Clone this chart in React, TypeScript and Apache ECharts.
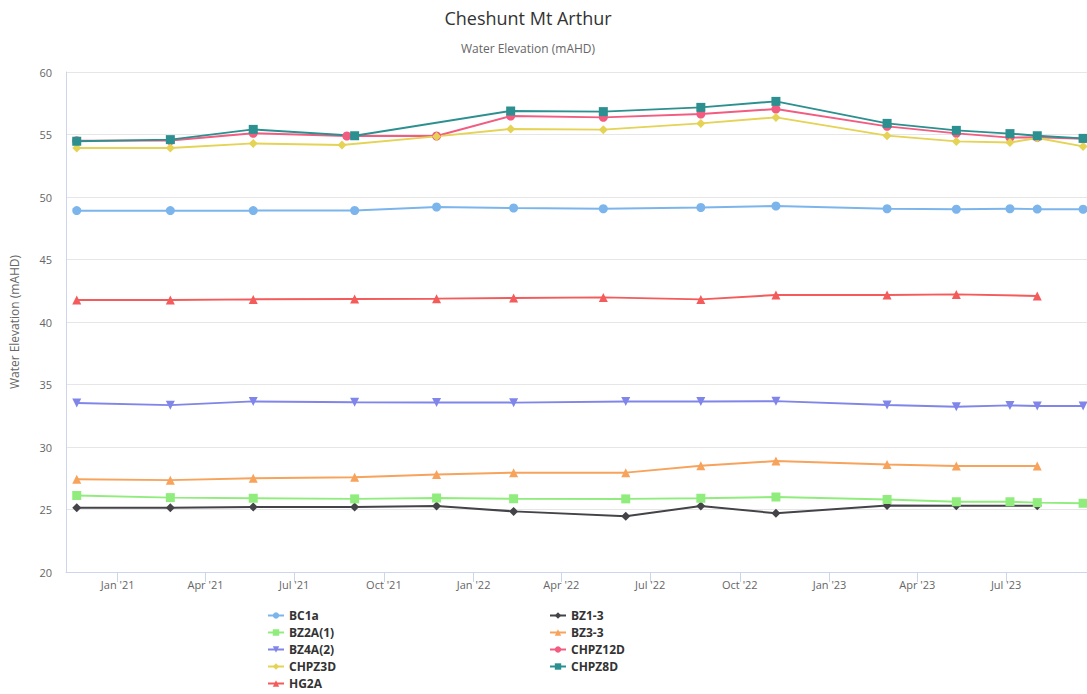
import React, { useEffect, useRef } from "react";
import * as echarts from "echarts";

const FONT = "'Open Sans', 'Noto Sans', sans-serif";

const tickDates = [
  "2021-01-01", "2021-04-01", "2021-07-01", "2021-10-01",
  "2022-01-01", "2022-04-01", "2022-07-01", "2022-10-01",
  "2023-01-01", "2023-04-01", "2023-07-01",
];
const monthNames = ["Jan", "Feb", "Mar", "Apr", "May", "Jun", "Jul", "Aug", "Sep", "Oct", "Nov", "Dec"];
const yTicks = { min: 20, max: 60, interval: 5 };
const xRange = { min: "2020-11-09", max: "2023-09-22" };

const bc1aDates = ["2020-11-20", "2021-02-24", "2021-05-20", "2021-09-01", "2021-11-24", "2022-02-11", "2022-05-14", "2022-08-22", "2022-11-07", "2023-03-01", "2023-05-11", "2023-07-05", "2023-08-02", "2023-09-18"];
const bc1aValues = [48.91, 48.91, 48.91, 48.92, 49.2, 49.12, 49.06, 49.16, 49.28, 49.06, 49.02, 49.06, 49.03, 49.02];

const bz13Dates = ["2020-11-20", "2021-02-24", "2021-05-20", "2021-09-01", "2021-11-24", "2022-02-11", "2022-06-06", "2022-08-22", "2022-11-07", "2023-03-01", "2023-05-11", "2023-08-02"];
const bz13Values = [25.14, 25.14, 25.2, 25.2, 25.28, 24.85, 24.46, 25.28, 24.7, 25.32, 25.3, 25.3];

const bz2aDates = ["2020-11-20", "2021-02-24", "2021-05-20", "2021-09-01", "2021-11-24", "2022-02-11", "2022-06-06", "2022-08-22", "2022-11-07", "2023-03-01", "2023-05-11", "2023-07-05", "2023-08-02", "2023-09-18"];
const bz2aValues = [26.12, 25.95, 25.9, 25.85, 25.92, 25.86, 25.85, 25.9, 26.0, 25.8, 25.62, 25.62, 25.55, 25.5];

const bz33Dates = ["2020-11-20", "2021-02-24", "2021-05-20", "2021-09-01", "2021-11-24", "2022-02-11", "2022-06-06", "2022-08-22", "2022-11-07", "2023-03-01", "2023-05-11", "2023-08-02"];
const bz33Values = [27.42, 27.35, 27.5, 27.58, 27.8, 27.95, 27.95, 28.5, 28.88, 28.6, 28.48, 28.48];

const bz4aDates = ["2020-11-20", "2021-02-24", "2021-05-20", "2021-09-01", "2021-11-24", "2022-02-11", "2022-06-06", "2022-08-22", "2022-11-07", "2023-03-01", "2023-05-11", "2023-07-05", "2023-08-02", "2023-09-18"];
const bz4aValues = [33.52, 33.35, 33.65, 33.58, 33.56, 33.55, 33.64, 33.64, 33.67, 33.36, 33.22, 33.33, 33.28, 33.28];

const chpz12dDates = ["2020-11-20", "2021-02-24", "2021-05-20", "2021-08-24", "2021-11-24", "2022-02-08", "2022-05-14", "2022-08-22", "2022-11-07", "2023-03-01", "2023-05-11", "2023-07-05", "2023-08-02", "2023-09-18"];
const chpz12dValues = [54.5, 54.52, 55.1, 54.88, 54.88, 56.48, 56.37, 56.64, 57.04, 55.65, 55.09, 54.75, 54.78, 54.66];

const chpz3dDates = ["2020-11-20", "2021-02-24", "2021-05-20", "2021-08-19", "2021-11-24", "2022-02-08", "2022-05-14", "2022-08-22", "2022-11-07", "2023-03-01", "2023-05-11", "2023-07-05", "2023-08-02", "2023-09-18"];
const chpz3dValues = [53.92, 53.92, 54.29, 54.16, 54.85, 55.44, 55.39, 55.89, 56.37, 54.91, 54.45, 54.36, 54.72, 54.05];

const chpz8dDates = ["2020-11-20", "2021-02-24", "2021-05-20", "2021-09-01", "2022-02-08", "2022-05-14", "2022-08-22", "2022-11-07", "2023-03-01", "2023-05-11", "2023-07-05", "2023-08-02", "2023-09-18"];
const chpz8dValues = [54.46, 54.59, 55.41, 54.9, 56.88, 56.83, 57.17, 57.65, 55.89, 55.33, 55.07, 54.9, 54.69];

const hg2aDates = ["2020-11-20", "2021-02-24", "2021-05-20", "2021-09-01", "2021-11-24", "2022-02-11", "2022-05-14", "2022-08-22", "2022-11-07", "2023-03-01", "2023-05-11", "2023-08-02"];
const hg2aValues = [41.76, 41.76, 41.81, 41.84, 41.87, 41.92, 41.97, 41.81, 42.16, 42.16, 42.21, 42.08];

const seriesDefs = [
  { name: "BC1a", dates: bc1aDates, values: bc1aValues, color: "#7cb5ec", symbol: "circle", size: 9 },
  { name: "BZ1-3", dates: bz13Dates, values: bz13Values, color: "#434348", symbol: "diamond", size: 9 },
  { name: "BZ2A(1)", dates: bz2aDates, values: bz2aValues, color: "#90ed7d", symbol: "rect", size: 9 },
  { name: "BZ3-3", dates: bz33Dates, values: bz33Values, color: "#f7a35c", symbol: "triangle", size: 9 },
  { name: "BZ4A(2)", dates: bz4aDates, values: bz4aValues, color: "#8085e9", symbol: "triangle", rotate: 180, size: 9 },
  { name: "CHPZ12D", dates: chpz12dDates, values: chpz12dValues, color: "#f15c80", symbol: "circle", size: 9 },
  { name: "CHPZ3D", dates: chpz3dDates, values: chpz3dValues, color: "#e4d354", symbol: "diamond", size: 9 },
  { name: "CHPZ8D", dates: chpz8dDates, values: chpz8dValues, color: "#2b908f", symbol: "rect", size: 9 },
  { name: "HG2A", dates: hg2aDates, values: hg2aValues, color: "#f45b5b", symbol: "triangle", size: 9 },
];

const legendLeft = ["BC1a", "BZ2A(1)", "BZ4A(2)", "CHPZ3D", "HG2A"];
const legendRight = ["BZ1-3", "BZ3-3", "CHPZ12D", "CHPZ8D"];

function ts(s: string) {
  return +new Date(s + "T00:00:00");
}

export default function App() {
  const ref = useRef<HTMLDivElement>(null);
  useEffect(() => {
    if (!ref.current) return;
    const chart = echarts.init(ref.current, null, { renderer: "svg" });
    const legendCommon = {
      orient: "vertical",
      itemWidth: 16,
      itemHeight: 8,
      itemGap: 4,
      height: 100,
      padding: [0, 5, 0, 5],
      textStyle: { fontFamily: FONT, fontSize: 12, fontWeight: "bold", color: "#333", lineHeight: 13 },
      selectedMode: false,
    };
    const tickValues = tickDates.map(ts);
    const option: any = {
      animation: false,
      backgroundColor: "#ffffff",
      textStyle: { fontFamily: FONT },
      title: [
        {
          text: "Cheshunt Mt Arthur",
          left: 528,
          textAlign: "center",
          top: 9,
          padding: 0,
          textStyle: { fontFamily: FONT, fontSize: 18, fontWeight: "normal", color: "#333333" },
        },
        {
          text: "Water Elevation (mAHD)",
          left: 528,
          textAlign: "center",
          top: 42,
          padding: 0,
          textStyle: { fontFamily: FONT, fontSize: 12, fontWeight: "normal", color: "#666666" },
        },
      ],
      legend: [
        { ...legendCommon, data: legendLeft, left: 262, top: 609 },
        { ...legendCommon, data: legendRight, left: 544, top: 609 },
      ],
      grid: { left: 66, right: 0, top: 72, bottom: 122, containLabel: false },
      xAxis: {
        type: "value",
        min: ts(xRange.min),
        max: ts(xRange.max),
        splitLine: { show: false },
        axisLine: { show: true, lineStyle: { color: "#ccd6eb", width: 1 } },
        axisTick: {
          show: true,
          length: 10,
          lineStyle: { color: "#ccd6eb" },
          customValues: tickValues,
        },
        axisLabel: {
          customValues: tickValues,
          color: "#666666",
          fontSize: 11,
          fontFamily: FONT,
          margin: 7,
          formatter: (v: number) => {
            const d = new Date(v);
            return monthNames[d.getMonth()] + " '" + String(d.getFullYear()).slice(2);
          },
        },
      },
      yAxis: {
        type: "value",
        min: yTicks.min,
        max: yTicks.max,
        interval: yTicks.interval,
        name: "Water Elevation (mAHD)",
        nameLocation: "middle",
        nameGap: 46,
        nameTextStyle: { color: "#666666", fontSize: 12, fontFamily: FONT },
        axisLine: { show: true, lineStyle: { color: "#ccd6eb" } },
        axisTick: { show: false },
        splitLine: { show: true, lineStyle: { color: "#e6e6e6" } },
        axisLabel: { color: "#666666", fontSize: 11, fontFamily: FONT, margin: 14 },
      },
      series: seriesDefs.map((s) => ({
        name: s.name,
        type: "line",
        data: s.dates.map((d, i) => [ts(d), s.values[i]]),
        symbol: s.symbol,
        symbolSize: s.size,
        symbolRotate: s.rotate || 0,
        showAllSymbol: true,
        itemStyle: { color: s.color },
        lineStyle: { color: s.color, width: 2 },
        emphasis: { disabled: true },
      })),
    };
    chart.setOption(option);
    return () => chart.dispose();
  }, []);
  return (
    <div
      ref={ref}
      style={{ position: "fixed", left: 0, top: 0, width: 1087, height: 694, background: "#fff" }}
    />
  );
}
